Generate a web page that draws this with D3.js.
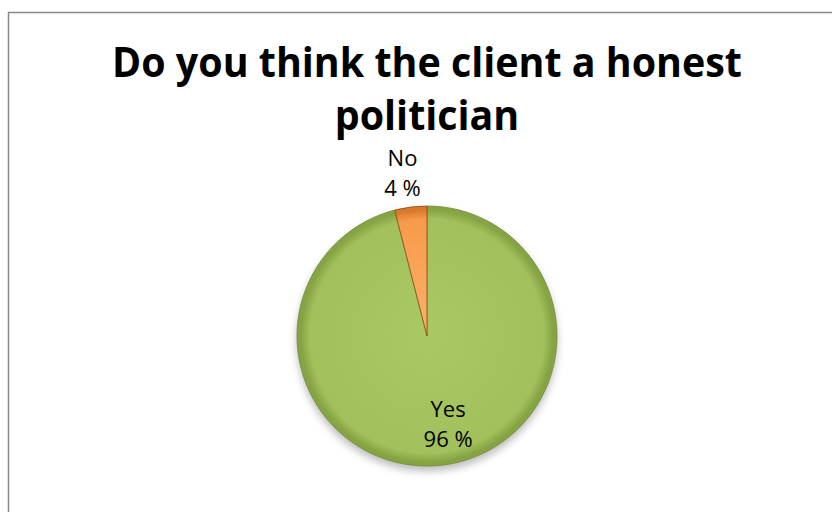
<!DOCTYPE html>
<html>
<head>
<meta charset="utf-8">
<script src="https://cdn.jsdelivr.net/npm/d3@7"></script>
<style>
  html, body { margin: 0; padding: 0; background: #fff; }
  svg { display: block; }
</style>
</head>
<body>
<svg id="chart" width="832" height="512"></svg>
<script>
// Survey answers
const categories = ["Yes", "No"];
const values = [96, 4];
const valueLabels = ["96 %", "4 %"];
const titleLines = ["Do you think the client a honest", "politician"];

const width = 832, height = 512;
const cx = 427, cy = 336, radius = 130;

const svg = d3.select("#chart");
const defs = svg.append("defs");

// Chart frame (top and left edges visible, rest runs off the page)
svg.append("rect")
  .attr("x", 8.5).attr("y", 12.5)
  .attr("width", 900).attr("height", 600)
  .attr("fill", "#fff")
  .attr("stroke", "#878787")
  .attr("stroke-width", 1.5);

// Title: a tall bold face, condensed horizontally so the first line spans ~630px
const titleG = svg.append("g");
const titleText = titleG.selectAll("text")
  .data(titleLines)
  .join("text")
  .attr("x", 0)
  .attr("y", (d, i) => 77 + i * 53)
  .attr("text-anchor", "middle")
  .attr("font-family", "'Open Sans', sans-serif")
  .attr("font-weight", "bold")
  .attr("font-size", 42)
  .attr("fill", "#000")
  .text(d => d);
const firstLen = titleText.node().getComputedTextLength();
const sx = Math.min(1, 630 / firstLen);
titleG.attr("transform", `translate(427,0) scale(${sx},1)`);

// Gradients for the bevelled slices
const palette = {
  Yes: { inner: "#a9c964", mid: "#a2c15c", rim: "#86a444", stroke: "#6e8a36" },
  No:  { inner: "#fbb26c", mid: "#f79a4b", rim: "#d87a2c", stroke: "#8a4a18" }
};
categories.forEach(c => {
  const g = defs.append("radialGradient")
    .attr("id", "grad-" + c)
    .attr("gradientUnits", "userSpaceOnUse")
    .attr("cx", 0).attr("cy", 0).attr("r", radius);
  g.append("stop").attr("offset", "0%").attr("stop-color", palette[c].inner);
  g.append("stop").attr("offset", "90%").attr("stop-color", palette[c].mid);
  g.append("stop").attr("offset", "97%").attr("stop-color", palette[c].rim);
  g.append("stop").attr("offset", "100%").attr("stop-color", palette[c].rim);
});

const shadowFilter = defs.append("filter")
  .attr("id", "shadow")
  .attr("x", "-30%").attr("y", "-30%").attr("width", "160%").attr("height", "160%");
shadowFilter.append("feGaussianBlur").attr("stdDeviation", 4);

const data = categories.map((c, i) => ({ category: c, value: values[i], label: valueLabels[i] }));

const pie = d3.pie().value(d => d.value).sort(null);
const arcs = pie(data);

const arc = d3.arc().innerRadius(0).outerRadius(radius);

const g = svg.append("g").attr("transform", `translate(${cx},${cy})`);

// Soft drop shadow beneath the pie
g.append("circle")
  .attr("cx", 0).attr("cy", 5)
  .attr("r", radius)
  .attr("fill", "#000")
  .attr("opacity", 0.28)
  .attr("filter", "url(#shadow)");

g.selectAll("path.slice")
  .data(arcs)
  .join("path")
  .attr("class", "slice")
  .attr("d", arc)
  .attr("fill", d => `url(#grad-${d.data.category})`)
  .attr("stroke", d => palette[d.data.category].stroke)
  .attr("stroke-width", 0.8)
  .attr("stroke-linejoin", "round");

// Data labels: large slice labelled inside (best fit), small slice outside its edge
const insideArc = d3.arc().innerRadius(radius * 0.68).outerRadius(radius * 0.68);
const outsideArc = d3.arc().innerRadius(radius * 1.26).outerRadius(radius * 1.26);

const labels = g.selectAll("g.label")
  .data(arcs)
  .join("g")
  .attr("class", "label")
  .attr("transform", d => {
    const inside = d.endAngle - d.startAngle > 0.5;
    const [x, y] = (inside ? insideArc : outsideArc).centroid(d);
    return `translate(${x + (inside ? 10 : -4)},${y})`;
  });

labels.append("text")
  .attr("text-anchor", "middle")
  .attr("font-family", "'Open Sans', sans-serif")
  .attr("font-size", 22)
  .attr("fill", "#000")
  .selectAll("tspan")
  .data(d => [d.data.category, d.data.label])
  .join("tspan")
  .attr("x", 0)
  .attr("y", (d, i) => i === 0 ? -7 : 23)
  .text(d => d);
</script>
</body>
</html>
